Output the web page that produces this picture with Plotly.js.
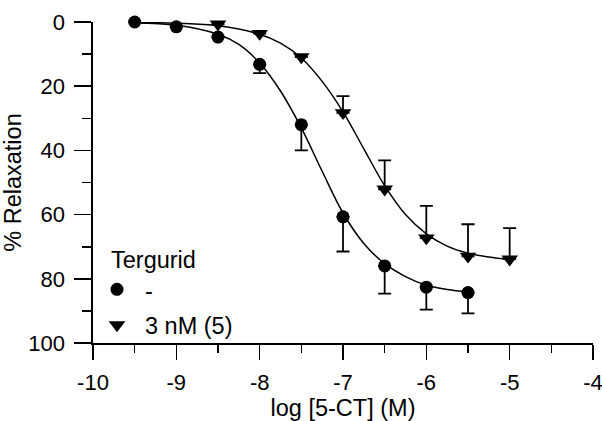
<!DOCTYPE html>
<html>
<head>
<meta charset="utf-8">
<script src="https://cdn.plot.ly/plotly-3.0.1.min.js"></script>
<style>html,body{margin:0;padding:0;background:#fff;}#chart{width:602px;height:421px;}</style>
</head>
<body>
<div id="chart"></div>
<script>
// Data
const logConc = [-9.5, -9, -8.5, -8, -7.5, -7, -6.5, -6, -5.5];
const ctrlMean = [0, 1.5, 4.7, 13.2, 32, 60.7, 76, 82.6, 84.3];
const ctrlSem  = [0, 0, 0, 2.7, 8, 10.8, 8.6, 7, 6.5];

const logConcT = [-9.5, -9, -8.5, -8, -7.5, -7, -6.5, -6, -5.5, -5];
const tergMean = [-0.3, -0.5, 0.7, 3.6, 10.9, 28.3, 52.1, 67.3, 73, 73.9];
const tergSem  = [0, 0, 0, 0, 0, 5.2, 9, 10, 10, 9.7];

// Fitted curves
const ctrlFitX = [-9.5, -9, -8.5, -8.25, -8, -7.75, -7.5, -7.25, -7, -6.75, -6.5, -6.25, -6, -5.75, -5.5];
const ctrlFitY = [0.3, 1.0, 3.8, 7, 12.8, 21.5, 33, 46.5, 59.5, 69, 75.3, 79.3, 82, 83.3, 84.1];
const tergFitX = [-9.5, -9, -8.5, -8, -7.75, -7.5, -7.25, -7, -6.75, -6.5, -6.25, -6, -5.75, -5.5, -5.25, -5];
const tergFitY = [0.1, 0.4, 1.2, 3.8, 6.6, 11.2, 18.5, 28, 39.5, 51, 60, 66, 69.8, 72, 73.2, 74];

// Tick labels
const xTickVals = [-10, -9, -8, -7, -6, -5, -4];
const xTickText = ["-10", "-9", "-8", "-7", "-6", "-5", "-4"];
const yTickVals = [0, 20, 40, 60, 80, 100];
const yTickText = ["0", "20", "40", "60", "80", "100"];

const legendTitle = "Tergurid";
const ctrlName = "-";
const tergName = "3 nM (5)";

const FAM = 'Arial, "Liberation Sans", sans-serif';
const FONT = {family: FAM, size: 23.5, color: '#000'};
const TICKFONT = {family: FAM, size: 22, color: '#000'};

const traces = [
  {x: ctrlFitX, y: ctrlFitY, mode: 'lines', line: {color: '#000', width: 1.5, shape: 'spline'}, showlegend: false, hoverinfo: 'skip'},
  {x: tergFitX, y: tergFitY, mode: 'lines', line: {color: '#000', width: 1.5, shape: 'spline'}, showlegend: false, hoverinfo: 'skip'},
  {x: logConc, y: ctrlMean, name: ctrlName, mode: 'markers', legendgroup: 'a',
   marker: {symbol: 'circle', size: 13, color: '#000'},
   error_y: {type: 'data', symmetric: false, array: ctrlSem, arrayminus: ctrlSem.map(() => 0), color: '#000', thickness: 1.8, width: 6.5},
   cliponaxis: false},
  {x: logConcT, y: tergMean, name: tergName, mode: 'markers', legendgroup: 'b',
   marker: {symbol: 'triangle-down', size: 14.5, color: '#000'},
   error_y: {type: 'data', symmetric: false, array: tergSem.map(() => 0), arrayminus: tergSem, color: '#000', thickness: 1.8, width: 6.5},
   cliponaxis: false}
];

const layout = {
  width: 602, height: 421,
  margin: {l: 93, r: 9, t: 22, b: 78},
  paper_bgcolor: '#fff', plot_bgcolor: '#fff',
  font: FONT,
  showlegend: true,
  legend: {
    x: -0.008, y: 0.235, xanchor: 'left', yanchor: 'top',
    font: FONT, bgcolor: 'rgba(0,0,0,0)', traceorder: 'grouped', tracegroupgap: 2,
    itemwidth: 46
  },
  annotations: [{
    text: legendTitle, xref: 'paper', yref: 'paper', x: 0.032, y: 0.26,
    xanchor: 'left', yanchor: 'middle', showarrow: false, font: FONT
  }],
  xaxis: {
    range: [-10, -4], tickmode: 'array', tickvals: xTickVals, ticktext: xTickText,
    showgrid: false, zeroline: false,
    showline: true, linecolor: '#000', linewidth: 1.6,
    ticks: 'outside', ticklen: 15, tickwidth: 1.6, tickcolor: '#000',
    ticklabelstandoff: 4, ticklabeloverflow: 'allow',
    minor: {dtick: 0.5, tick0: -10, ticks: 'outside', ticklen: 8, tickwidth: 1.6, tickcolor: '#000', showgrid: false},
    title: {text: 'log [5-CT] (M)', font: FONT, standoff: 7},
    tickfont: TICKFONT
  },
  yaxis: {
    range: [100, 0], tickmode: 'array', tickvals: yTickVals, ticktext: yTickText,
    showgrid: false, zeroline: false,
    showline: true, linecolor: '#000', linewidth: 1.6,
    ticks: 'outside', ticklen: 17, tickwidth: 1.6, tickcolor: '#000',
    ticklabelstandoff: 5,
    minor: {dtick: 10, tick0: 0, ticks: 'outside', ticklen: 9, tickwidth: 1.6, tickcolor: '#000', showgrid: false},
    title: {text: '% Relaxation', font: FONT, standoff: 6},
    tickfont: TICKFONT
  }
};

Plotly.newPlot('chart', traces, layout, {displayModeBar: false, staticPlot: true});
</script>
</body>
</html>
